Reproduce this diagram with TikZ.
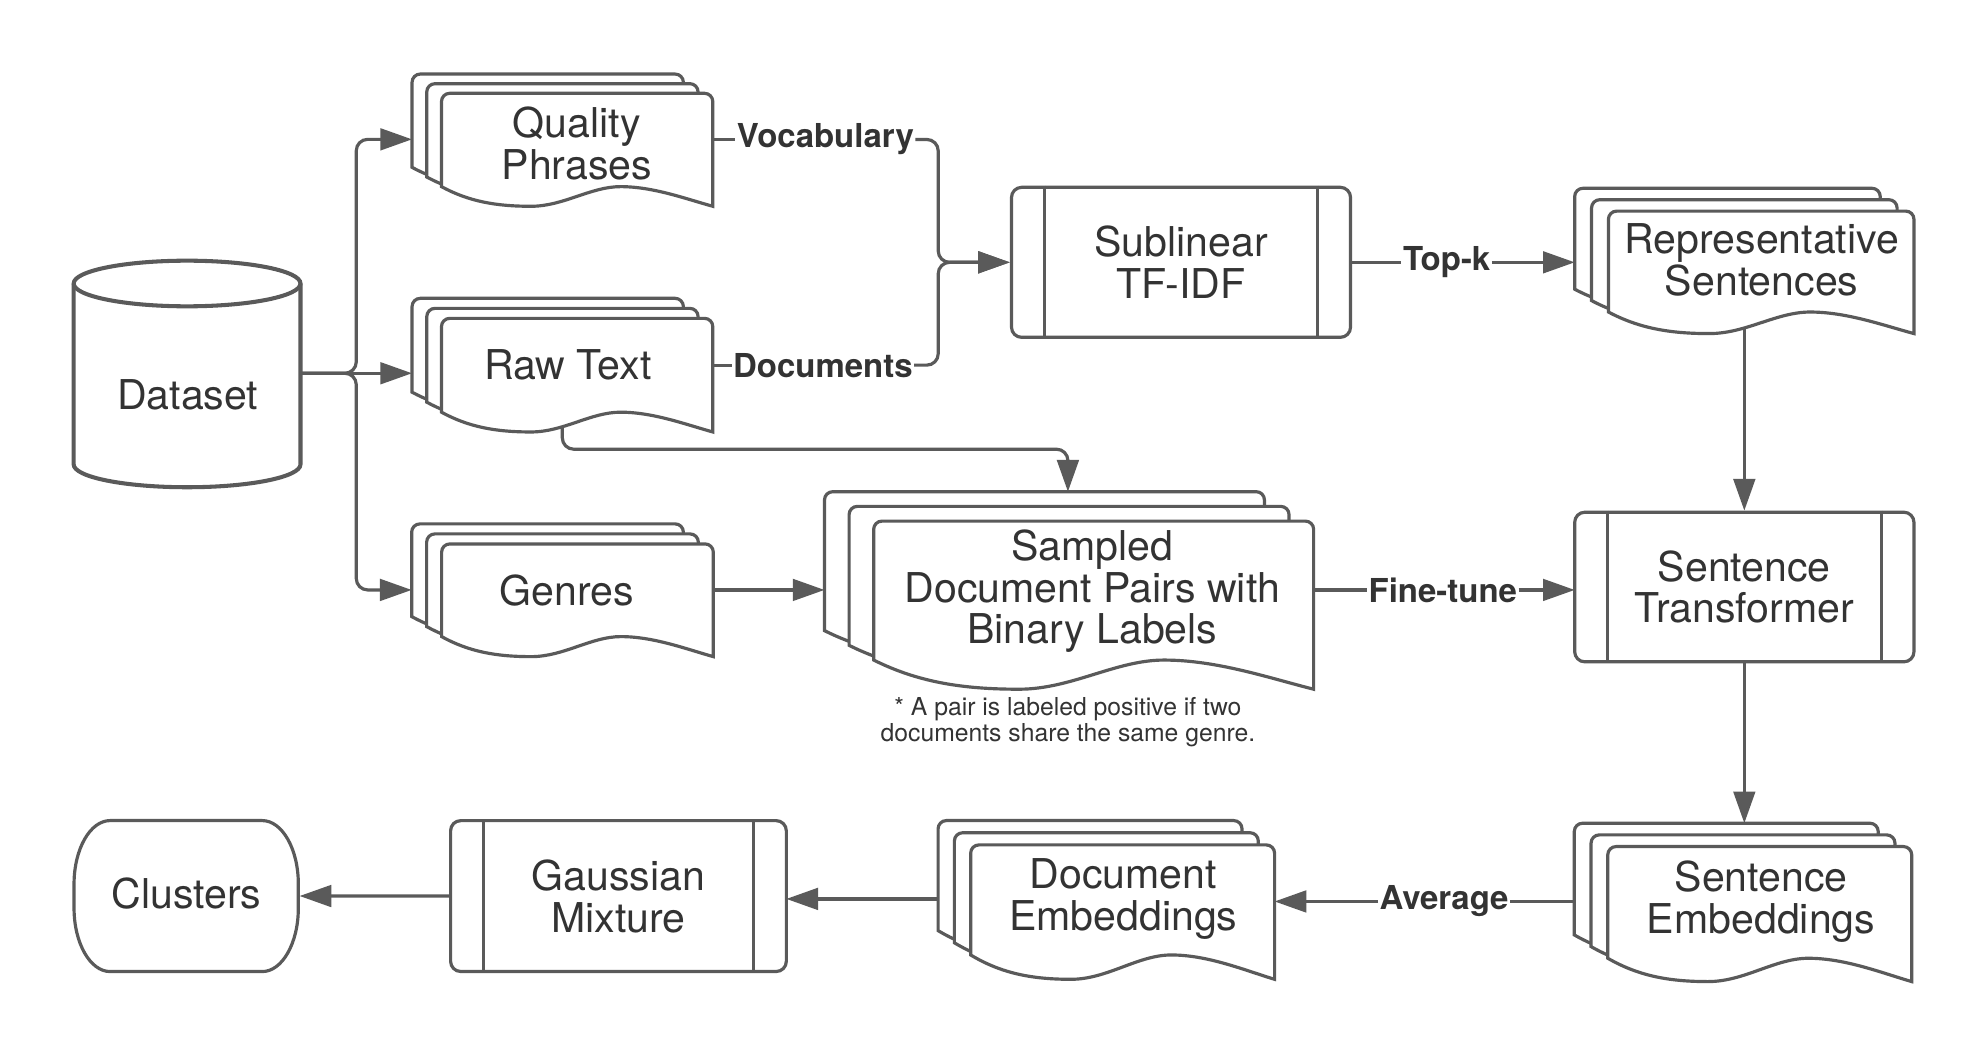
\documentclass[tikz,border=0pt]{standalone}
\usepackage{fontspec}
\setmainfont{TeX Gyre Heros}
\usetikzlibrary{arrows.meta}
\pgfdeclarelayer{background}
\pgfdeclarelayer{canvas}
\pgfsetlayers{canvas,background,main}
\definecolor{lc}{HTML}{5A5A5A}
\definecolor{tc}{HTML}{333333}
\newcommand{\msz}{\fontsize{32.4}{33}\selectfont}
\newcommand{\lsz}{\fontsize{26}{28}\selectfont\bfseries}
\newcommand{\nsz}{\fontsize{19.5}{20.3}\selectfont}
\newcommand{\rc}{6.5}
\newcommand{\onedoc}[5]{%
 \draw[shp] ({#1},{#2+#4}) -- ({#1},{#2+\rc})
  arc[start angle=180,end angle=270,radius=\rc]
  -- ({#1+#3-\rc},{#2}) arc[start angle=270,end angle=360,radius=\rc]
  -- ({#1+#3},{#2+#4+#5})
  .. controls ({#1+0.9*#3},{#2+#4+0.62*#5}) and ({#1+0.78*#3},{#2+#4}) .. ({#1+0.66*#3},{#2+#4})
  .. controls ({#1+0.55*#3},{#2+#4}) and ({#1+0.45*#3},{#2+#4+#5}) .. ({#1+0.33*#3},{#2+#4+#5})
  .. controls ({#1+0.2*#3},{#2+#4+#5}) and ({#1+0.1*#3},{#2+#4+0.75*#5}) .. ({#1},{#2+#4}) -- cycle;}
\newcommand{\docstack}[7]{%
  \onedoc{#1}{#2}{#3}{#4}{#5}%
  \onedoc{#1+#6}{#2+#7}{#3}{#4}{#5}%
  \onedoc{#1+2*#6}{#2+2*#7}{#3}{#4}{#5}}
\newcommand{\procbox}[6]{%
  \node[proc,minimum width=#4pt,minimum height=#5pt] (#1) at (#2,#3) {#6};
  \draw[shpl] ([xshift=27pt]#1.north west) -- ([xshift=27pt]#1.south west);
  \draw[shpl] ([xshift=-27pt]#1.north east) -- ([xshift=-27pt]#1.south east);}
\begin{document}
\begin{tikzpicture}[x=1pt,y=-1pt,
  shp/.style={draw=lc,line width=2.5pt,fill=white},
  shpl/.style={draw=lc,line width=2.5pt},
  cyl/.style={draw=lc,line width=3.2pt,fill=white},
  txt/.style={text=tc,font=\msz,align=center,inner sep=0pt},
  proc/.style={shp,rounded corners=8pt,text=tc,font=\msz,align=center,inner sep=0pt},
  lbl/.style={text=tc,font=\lsz,inner sep=1pt},
  note/.style={text=tc,font=\nsz,align=center,inner sep=0pt},
  line/.style={draw=lc,line width=2.5pt},
  conn/.style={line,-{Triangle[length=25pt,width=17pt]}},
  rc/.style={rounded corners=9pt}]
\useasboundingbox (0,0) rectangle (1568,833);
\begin{pgfonlayer}{canvas}
\fill[white] (0,0) rectangle (1568,833);
\end{pgfonlayer}

% Dataset cylinder
\draw[cyl] (58.1,223.6) -- (58.1,366.3) arc[start angle=180,end angle=0,x radius=89.45,y radius=18]
  -- (237,223.6) arc[start angle=0,end angle=-180,x radius=89.45,y radius=18] -- cycle;
\draw[cyl,fill=none] (58.1,223.6) arc[start angle=180,end angle=0,x radius=89.45,y radius=18];
\node[txt] (ds) at (148.1,311.5) {Dataset};

% Clusters
\draw[shp] (86.9,647.2) -- (206.8,647.2)
  arc[start angle=-90,end angle=0,x radius=28.5,y radius=50] -- (235.3,716.3)
  arc[start angle=0,end angle=90,x radius=28.5,y radius=50] -- (86.9,766.3)
  arc[start angle=90,end angle=180,x radius=28.5,y radius=50] -- (58.4,697.2)
  arc[start angle=180,end angle=270,x radius=28.5,y radius=50] -- cycle;
\node[txt] (cl) at (147.1,704.5) {Clusters};

% document stacks
\docstack{325}{58.4}{214}{73.6}{15.5}{11.6}{7.6}
\node[txt] (qp) at (455,113.2) {Quality\\Phrases};
\docstack{325}{235.3}{214}{74}{15.6}{11.6}{7.9}
\node[txt] (rt) at (448,288) {Raw Text};
\docstack{324.7}{413.2}{214.3}{73.1}{15.8}{11.8}{7.9}
\node[txt] (gn) at (446.9,465.8) {Genres};
\docstack{650.3}{387.8}{347}{109.6}{23}{19.4}{11.6}
\node[txt] (sp) at (861.6,466.3) {Sampled\\Document Pairs with\\Binary Labels};
\docstack{1242}{148.5}{241}{79.6}{17}{13.3}{9}
\node[txt] (rs) at (1389.5,204.9) {Representative\\Sentences};
\docstack{1241.7}{649.3}{239.7}{88.1}{18.4}{13.2}{9.2}
\node[txt] (se) at (1389,711) {Sentence\\Embeddings};
\docstack{739.9}{647.2}{239.7}{86.8}{19.2}{12.85}{9.6}
\node[txt] (de) at (886,709) {Document\\Embeddings};

\node[note] (note) at (842.3,569.8) {* A pair is labeled positive if two\\documents share the same genre.};

% process boxes
\procbox{sub}{931.5}{206.9}{267.4}{118.3}{Sublinear\\TF-IDF}
\procbox{st}{1375.8}{463}{267.6}{118}{Sentence\\Transformer}
\procbox{gm}{487.8}{706.75}{264.8}{119}{Gaussian\\Mixture}

% labels
\node[lbl] (voc) at (651,110) {Vocabulary};
\node[lbl] (docs) at (649,288) {Documents};
\node[lbl] (topk) at (1141,206.9) {Top-k};
\node[lbl] (ft) at (1138,465.3) {Fine-tune};
\node[lbl] (avg) at (1139,711) {Average};

% connection points
\coordinate (ds-o) at (230,294.4);
\coordinate (jx) at (281,294.4);
\coordinate (qp-in) at (325,109.9);
\coordinate (rt-in) at (325,294.4);
\coordinate (gn-in) at (324.7,465.3);
\coordinate (qp-out) at (556,110);
\coordinate (rt-out) at (556,288);
\coordinate (mx1) at (740,110);
\coordinate (mx2) at (740,288);
\coordinate (rs-in) at (1242,206.9);
\coordinate (rs-out) at (1375.8,250);
\coordinate (se-in) at (1375.8,649.3);
\coordinate (se-out) at (1248,711);
\coordinate (de-in) at (1005.3,711);
\coordinate (de-out) at (746,709);
\coordinate (gm-in) at (620.2,709);
\coordinate (cl-in) at (236.3,706.7);
\coordinate (gn-out) at (556,465.3);
\coordinate (sp-in) at (650.3,465.3);
\coordinate (rt-b) at (443.5,330);
\coordinate (rt-k) at (842.3,354.3);
\coordinate (sp-top) at (842.3,387.8);
\coordinate (sp-out) at (1030,465.3);
\coordinate (st-in) at (1242,465.3);

\begin{pgfonlayer}{background}
\draw[conn,rc] (ds-o) -- (jx) |- (qp-in);
\draw[conn] (ds-o) -- (rt-in);
\draw[conn,rc] (ds-o) -- (jx) |- (gn-in);
\draw[line] (qp-out) -- (voc.west);
\draw[conn,rc] (voc.east) -- (mx1) |- (sub.west);
\draw[line] (rt-out) -- (docs.west);
\draw[conn,rc] (docs.east) -- (mx2) |- (sub.west);
\draw[line] (sub.east) -- (topk.west);
\draw[conn] (topk.east) -- (rs-in);
\draw[conn] (rs-out) -- (st.north);
\draw[conn] (st.south) -- (se-in);
\draw[line] (se-out) -- (avg.east);
\draw[conn] (avg.west) -- (de-in);
\draw[conn] (de-out) -- (gm-in);
\draw[conn] (gm.west) -- (cl-in);
\draw[conn] (gn-out) -- (sp-in);
\draw[conn,rc] (rt-b) |- (rt-k) -- (sp-top);
\draw[line] (sp-out) -- (ft.west);
\draw[conn] (ft.east) -- (st-in);
\end{pgfonlayer}
\end{tikzpicture}
\end{document}
